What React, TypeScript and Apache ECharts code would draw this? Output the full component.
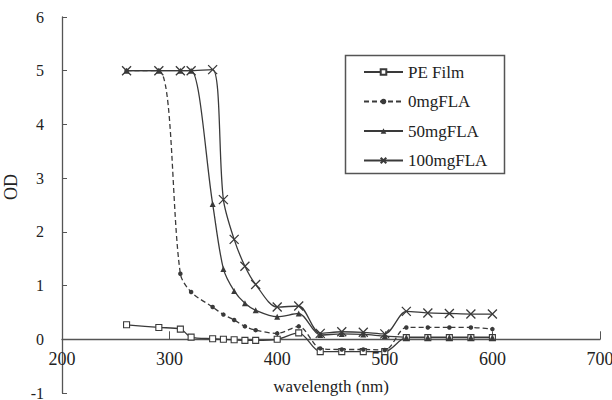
import React, { useEffect, useRef } from "react";
import * as echarts from "echarts";

const wavelengths = [260, 290, 310, 320, 340, 350, 360, 370, 380, 400, 420, 440, 460, 480, 500, 520, 540, 560, 580, 600];
const peFilm = [0.27, 0.22, 0.19, 0.04, 0.01, 0.0, -0.01, -0.02, -0.02, 0.0, 0.12, -0.23, -0.23, -0.23, -0.23, 0.03, 0.03, 0.03, 0.03, 0.03];
const fla0 = [5.0, 5.0, 1.22, 0.88, 0.6, 0.46, 0.36, 0.24, 0.17, 0.11, 0.24, -0.17, -0.19, -0.19, -0.2, 0.22, 0.22, 0.22, 0.22, 0.19];
const fla50 = [5.0, 5.0, 5.0, 5.0, 2.52, 1.31, 0.9, 0.67, 0.54, 0.42, 0.48, 0.08, 0.1, 0.09, 0.06, 0.04, 0.04, 0.04, 0.04, 0.04];
const fla100 = [5.0, 5.0, 5.0, 5.0, 5.02, 2.6, 1.86, 1.36, 1.02, 0.6, 0.62, 0.11, 0.14, 0.13, 0.1, 0.52, 0.49, 0.48, 0.47, 0.47];
const seriesNames = ["PE Film", "0mgFLA", "50mgFLA", "100mgFLA"];
const xTicks = [200, 300, 400, 500, 600, 700];
const yTicks = [-1, 0, 1, 2, 3, 4, 5, 6];

const INK = "#3a3a3a";
const TEXT = "#222";
const AXIS = "#555";
const FONT = "'Liberation Serif', 'Times New Roman', serif";

const pairs = (vals: number[]) => wavelengths.map((w, i) => [w, vals[i]]);

export default function App() {
  const ref = useRef<HTMLDivElement>(null);
  useEffect(() => {
    if (!ref.current) return;
    const chart = echarts.init(ref.current, undefined, { renderer: "svg" });
    const base = {
      type: "line",
      smooth: 0.3,
      xAxisIndex: 0,
      yAxisIndex: 0,
      lineStyle: { color: INK, width: 1.3 },
    };
    const xMin = xTicks[0];
    const xMax = xTicks[xTicks.length - 1];
    chart.setOption({
      animation: false,
      backgroundColor: "#fff",
      textStyle: { fontFamily: FONT },
      grid: [
        { left: 62, right: 12, top: 17, bottom: 7, containLabel: false, outerBoundsMode: "none" },
        { left: 62, right: 12, top: 17, bottom: 59.7, containLabel: false, outerBoundsMode: "none" },
      ],
      legend: {
        orient: "vertical",
        left: 363,
        top: 63,
        padding: 0,
        itemWidth: 39,
        itemHeight: 7,
        itemGap: 11.5,
        textStyle: { fontFamily: FONT, fontSize: 17, lineHeight: 18, color: TEXT },
        data: seriesNames,
      },
      graphic: [
        {
          type: "rect",
          shape: { x: 345.5, y: 55.5, width: 159, height: 118 },
          style: { fill: "none", stroke: AXIS, lineWidth: 1.5 },
        },
      ],
      xAxis: [
        {
          gridIndex: 0,
          type: "value",
          min: xMin,
          max: xMax,
          interval: 100,
          axisLine: { onZero: true, lineStyle: { color: AXIS, width: 1.3 } },
          axisTick: { inside: true, length: 8, lineStyle: { color: AXIS } },
          axisLabel: { show: false },
          splitLine: { show: false },
        },
        {
          gridIndex: 1,
          type: "value",
          min: xMin,
          max: xMax,
          interval: 100,
          name: "wavelength (nm)",
          nameLocation: "middle",
          nameGap: 38,
          nameTextStyle: { fontFamily: FONT, fontSize: 17, color: TEXT },
          axisLine: { show: false },
          axisTick: { show: false },
          axisLabel: { margin: 10, fontFamily: FONT, fontSize: 18, color: TEXT },
          splitLine: { show: false },
        },
      ],
      yAxis: [
        {
          gridIndex: 0,
          type: "value",
          min: yTicks[0],
          max: yTicks[yTicks.length - 1],
          interval: 1,
          name: "OD",
          nameLocation: "middle",
          nameGap: 30,
          nameTextStyle: { fontFamily: FONT, fontSize: 18, color: TEXT, padding: [0, 0, 0, 36] },
          axisLine: { show: true, lineStyle: { color: AXIS, width: 1.3 } },
          axisTick: { show: true, inside: true, length: 5, lineStyle: { color: AXIS } },
          axisLabel: { margin: 18, fontFamily: FONT, fontSize: 16, color: TEXT, verticalAlign: "middle" },
          splitLine: { show: false },
        },
        {
          gridIndex: 1,
          type: "value",
          min: 0,
          max: 6,
          show: false,
        },
      ],
      series: [
        {
          ...base,
          name: seriesNames[0],
          data: pairs(peFilm),
          symbol: "rect",
          symbolSize: 6,
          itemStyle: { color: "#fff", borderColor: INK, borderWidth: 1.1 },
        },
        {
          ...base,
          name: seriesNames[1],
          data: pairs(fla0),
          symbol: "circle",
          symbolSize: 4.5,
          lineStyle: { color: INK, width: 1.3, type: [5, 3] },
          itemStyle: { color: INK },
        },
        {
          ...base,
          name: seriesNames[2],
          data: pairs(fla50),
          symbol: "triangle",
          symbolSize: 6,
          itemStyle: { color: INK },
        },
        {
          ...base,
          name: seriesNames[3],
          data: pairs(fla100),
          symbol: "path://M0,0L10,10M10,0L0,10",
          symbolSize: 9,
          itemStyle: { color: "none", borderColor: INK, borderWidth: 1.3 },
        },
      ],
    });
    return () => chart.dispose();
  }, []);
  return (
    <div
      ref={ref}
      style={{ position: "fixed", left: 0, top: 0, width: 612, height: 400, background: "#fff" }}
    />
  );
}
